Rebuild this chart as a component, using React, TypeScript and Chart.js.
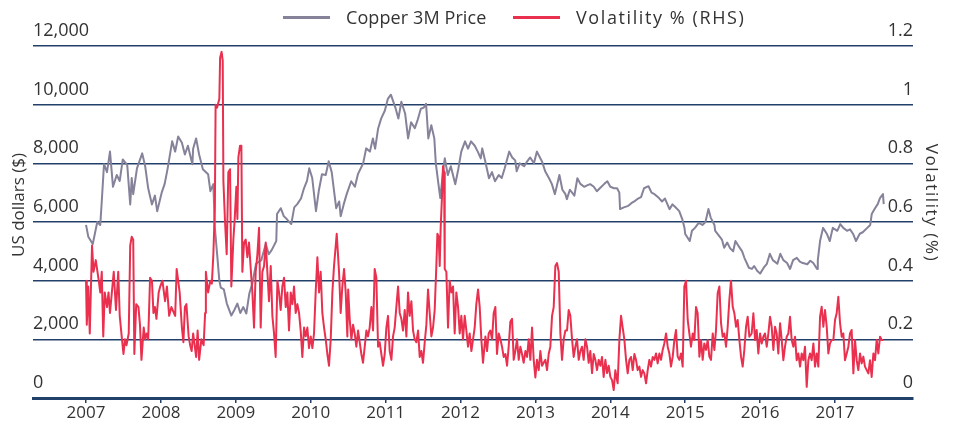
import React, { useEffect, useRef } from 'react';
import { Chart, registerables } from 'chart.js';

Chart.register(...registerables);

const FONT = "'Open Sans', 'Noto Sans', sans-serif";
const COPPER_COLOR = '#858299';
const VOL_COLOR = '#e9304f';
const NAVY = '#22416a';
const TEXT = '#333333';

const seriesNames = ['Copper 3M Price', 'Volatility % (RHS)'];
const axisTitles = ['US dollars ($)', 'Volatility (%)'];
const yearTicks = [2007, 2008, 2009, 2010, 2011, 2012, 2013, 2014, 2015, 2016, 2017];
const priceTicks = [0, 2000, 4000, 6000, 8000, 10000, 12000];
const volTicks = [0, 0.2, 0.4, 0.6, 0.8, 1, 1.2];

const copperSeries: [number, number][] = [
  [2007.00,5900],[2007.03,5500],[2007.09,5250],[2007.15,6000],[2007.19,5900],[2007.21,6700],[2007.24,7970],[2007.28,7700],[2007.32,8400],[2007.36,7200],[2007.41,7600],[2007.45,7400],[2007.49,8130],[2007.55,7950],[2007.59,6600],[2007.61,7500],[2007.63,6950],[2007.68,7830],[2007.75,8340],[2007.79,7900],[2007.83,7150],[2007.88,6600],[2007.92,6900],[2007.95,6370],
  [2008.01,7000],[2008.05,7300],[2008.09,7830],[2008.15,8750],[2008.19,8400],[2008.23,8915],[2008.28,8700],[2008.32,8300],[2008.36,8600],[2008.42,7970],[2008.43,8500],[2008.47,8850],[2008.51,8300],[2008.56,7800],[2008.63,7630],[2008.66,7050],[2008.70,7290],[2008.72,5800],[2008.75,4915],[2008.78,4000],[2008.80,3760],[2008.84,3700],[2008.88,3220],[2008.94,2810],[2008.98,3000],
  [2009.02,3220],[2009.06,2900],[2009.10,3100],[2009.14,2880],[2009.18,3560],[2009.22,3900],[2009.27,4575],[2009.34,4700],[2009.40,5250],[2009.44,4900],[2009.48,5050],[2009.54,5350],[2009.55,6270],[2009.60,6470],[2009.64,6200],[2009.68,6100],[2009.74,5930],[2009.78,6500],[2009.82,6610],[2009.87,6800],[2009.91,7150],[2009.95,7400],[2009.98,7830],
  [2010.02,7500],[2010.07,6370],[2010.11,7100],[2010.15,7630],[2010.20,7600],[2010.24,8070],[2010.28,7700],[2010.34,6470],[2010.38,6700],[2010.40,6200],[2010.44,6600],[2010.48,6950],[2010.54,7390],[2010.59,7200],[2010.63,7630],[2010.70,8000],[2010.74,8510],[2010.79,8400],[2010.83,8850],[2010.86,8500],[2010.90,9190],[2010.94,9525],[2010.99,9800],
  [2011.03,10200],[2011.07,10340],[2011.13,9900],[2011.17,9525],[2011.21,10100],[2011.26,9700],[2011.30,8850],[2011.34,9400],[2011.39,9200],[2011.43,9500],[2011.47,9860],[2011.51,9900],[2011.54,10030],[2011.57,8850],[2011.61,9300],[2011.65,8850],[2011.67,8000],[2011.70,7390],[2011.73,6815],[2011.77,7800],[2011.79,8170],[2011.83,7600],[2011.87,7900],[2011.93,7290],[2011.97,7800],
  [2012.01,8400],[2012.06,8750],[2012.10,8500],[2012.14,8750],[2012.19,8600],[2012.23,8400],[2012.27,8170],[2012.29,8510],[2012.33,8070],[2012.38,7490],[2012.42,7700],[2012.46,7390],[2012.51,7600],[2012.55,7500],[2012.59,7830],[2012.65,8400],[2012.69,8200],[2012.73,8100],[2012.75,7730],[2012.79,8000],[2012.85,7900],[2012.89,8070],[2012.93,8200],[2012.98,8000],
  [2013.02,8400],[2013.06,8200],[2013.09,8050],[2013.13,7730],[2013.18,7500],[2013.22,7290],[2013.26,6950],[2013.32,7600],[2013.36,7100],[2013.40,6950],[2013.42,6780],[2013.46,7100],[2013.52,6900],[2013.56,7490],[2013.60,7300],[2013.65,7200],[2013.69,7250],[2013.73,7290],[2013.78,7200],[2013.82,7050],[2013.86,7150],[2013.92,7300],[2013.96,7390],
  [2014.00,7200],[2014.05,7150],[2014.09,7150],[2014.12,7000],[2014.13,6440],[2014.18,6500],[2014.24,6550],[2014.28,6640],[2014.32,6700],[2014.37,6800],[2014.41,6850],[2014.45,7150],[2014.51,7220],[2014.55,7000],[2014.59,6950],[2014.65,6815],[2014.69,6700],[2014.73,6800],[2014.79,6440],[2014.83,6600],[2014.87,6500],[2014.92,6370],[2014.96,6100],[2014.99,5800],
  [2015.00,5590],[2015.06,5350],[2015.09,5700],[2015.13,5800],[2015.18,5970],[2015.23,5900],[2015.27,6000],[2015.31,6440],[2015.34,6150],[2015.39,5900],[2015.40,5700],[2015.46,5500],[2015.49,5400],[2015.52,5120],[2015.56,5300],[2015.60,5100],[2015.64,5000],[2015.67,5350],[2015.72,5150],[2015.76,5000],[2015.79,4780],[2015.85,4440],[2015.89,4400],[2015.92,4500],[2015.96,4340],
  [2016.00,4240],[2016.05,4450],[2016.09,4575],[2016.13,4915],[2016.17,4700],[2016.23,4575],[2016.27,4915],[2016.31,4700],[2016.36,4600],[2016.40,4400],[2016.44,4700],[2016.49,4780],[2016.53,4650],[2016.57,4600],[2016.63,4560],[2016.67,4680],[2016.71,4600],[2016.76,4400],[2016.77,4700],[2016.80,5350],[2016.84,5800],[2016.89,5600],[2016.93,5350],[2016.97,5800],
  [2017.03,5700],[2017.07,5930],[2017.11,5800],[2017.16,5700],[2017.20,5750],[2017.24,5600],[2017.28,5350],[2017.33,5600],[2017.37,5650],[2017.43,5800],[2017.47,5900],[2017.49,6270],[2017.53,6450],[2017.57,6610],[2017.60,6815],[2017.64,6950],[2017.65,6610],
];

const volatilitySeries: [number, number][] = [
  [2007.00,0.40],[2007.01,0.25],[2007.03,0.38],[2007.05,0.22],[2007.08,0.52],[2007.10,0.43],[2007.13,0.47],[2007.17,0.40],[2007.19,0.36],[2007.21,0.43],[2007.23,0.21],[2007.25,0.36],[2007.28,0.31],[2007.30,0.36],[2007.32,0.29],[2007.37,0.43],[2007.40,0.30],[2007.43,0.43],[2007.45,0.28],[2007.48,0.20],[2007.50,0.15],[2007.52,0.20],[2007.54,0.18],[2007.57,0.22],[2007.59,0.52],[2007.61,0.55],[2007.63,0.54],[2007.645,0.15],[2007.67,0.32],[2007.70,0.31],[2007.72,0.25],[2007.74,0.13],[2007.77,0.24],[2007.79,0.20],[2007.81,0.22],[2007.83,0.20],[2007.855,0.41],[2007.88,0.40],[2007.90,0.29],[2007.92,0.31],[2007.94,0.27],[2007.97,0.36],[2007.99,0.38],
  [2008.02,0.40],[2008.055,0.33],[2008.08,0.38],[2008.11,0.28],[2008.14,0.31],[2008.19,0.28],[2008.21,0.44],[2008.25,0.36],[2008.28,0.24],[2008.30,0.19],[2008.32,0.31],[2008.34,0.32],[2008.37,0.21],[2008.39,0.18],[2008.41,0.16],[2008.43,0.22],[2008.47,0.14],[2008.49,0.23],[2008.51,0.13],[2008.54,0.20],[2008.57,0.18],[2008.59,0.29],[2008.60,0.43],[2008.63,0.36],[2008.66,0.40],[2008.68,0.39],[2008.70,0.49],[2008.72,0.65],
  [2008.73,1.00],[2008.75,0.99],[2008.78,1.02],[2008.79,1.16],[2008.81,1.18],[2008.825,1.15],[2008.834,0.74],[2008.856,0.60],[2008.878,0.49],[2008.90,0.77],[2008.923,0.78],[2008.94,0.38],[2008.967,0.54],[2008.985,0.61],[2009.007,0.72],[2009.021,0.61],[2009.034,0.82],[2009.056,0.86],[2009.074,0.86],[2009.087,0.43],[2009.11,0.53],[2009.132,0.54],[2009.154,0.48],[2009.176,0.53],[2009.199,0.44],[2009.221,0.36],[2009.243,0.24],[2009.265,0.43],[2009.288,0.49],[2009.31,0.58],[2009.332,0.24],[2009.354,0.43],[2009.377,0.45],[2009.399,0.53],[2009.421,0.43],[2009.443,0.33],[2009.466,0.45],[2009.488,0.28],[2009.51,0.22],[2009.532,0.14],[2009.555,0.40],[2009.577,0.36],[2009.599,0.30],[2009.621,0.38],[2009.644,0.41],[2009.666,0.31],[2009.688,0.36],[2009.71,0.23],[2009.733,0.36],[2009.755,0.32],[2009.777,0.38],[2009.799,0.29],[2009.822,0.32],[2009.844,0.29],[2009.866,0.23],[2009.888,0.14],[2009.911,0.24],[2009.933,0.21],[2009.955,0.24],[2009.977,0.17],
  [2010.00,0.21],[2010.022,0.17],[2010.044,0.22],[2010.066,0.36],[2010.089,0.48],[2010.111,0.36],[2010.133,0.43],[2010.155,0.29],[2010.178,0.24],[2010.20,0.20],[2010.222,0.15],[2010.244,0.11],[2010.267,0.20],[2010.289,0.36],[2010.311,0.45],[2010.347,0.56],[2010.378,0.43],[2010.40,0.29],[2010.422,0.38],[2010.445,0.44],[2010.467,0.36],[2010.489,0.21],
  [2010.50,0.37],[2010.52,0.27],[2010.543,0.20],[2010.565,0.25],[2010.587,0.22],[2010.609,0.175],[2010.632,0.23],[2010.654,0.19],[2010.676,0.15],[2010.698,0.12],[2010.721,0.175],[2010.743,0.23],[2010.765,0.21],[2010.787,0.24],[2010.81,0.31],[2010.832,0.23],[2010.854,0.44],[2010.876,0.41],[2010.899,0.175],[2010.921,0.19],[2010.943,0.15],[2010.965,0.11],[2010.988,0.15],
  [2011.01,0.24],[2011.032,0.28],[2011.054,0.16],[2011.077,0.13],[2011.099,0.21],[2011.121,0.24],[2011.143,0.31],[2011.166,0.38],[2011.188,0.29],[2011.21,0.27],[2011.232,0.23],[2011.255,0.30],[2011.277,0.21],[2011.299,0.36],[2011.321,0.28],[2011.344,0.33],[2011.366,0.23],[2011.388,0.20],[2011.41,0.19],[2011.433,0.23],[2011.455,0.14],[2011.477,0.16],[2011.499,0.12],[2011.522,0.19],[2011.544,0.25],[2011.566,0.37],[2011.588,0.29],[2011.611,0.21],[2011.633,0.24],[2011.655,0.30],[2011.677,0.45],[2011.691,0.56],[2011.708,0.55],[2011.722,0.45],[2011.735,0.58],[2011.753,0.69],[2011.766,0.79],[2011.78,0.77],[2011.789,0.44],[2011.811,0.43],[2011.833,0.24],[2011.855,0.40],[2011.878,0.36],[2011.90,0.38],[2011.922,0.22],[2011.944,0.36],[2011.967,0.31],[2011.989,0.22],
  [2012.011,0.28],[2012.033,0.20],[2012.056,0.28],[2012.078,0.23],[2012.10,0.175],[2012.122,0.22],[2012.145,0.16],[2012.167,0.20],[2012.189,0.24],[2012.211,0.32],[2012.234,0.37],[2012.256,0.31],[2012.278,0.20],[2012.30,0.12],
  [2012.332,0.21],[2012.354,0.16],[2012.376,0.22],[2012.398,0.23],[2012.421,0.20],[2012.443,0.29],[2012.465,0.31],[2012.487,0.15],[2012.51,0.22],[2012.532,0.20],[2012.554,0.175],[2012.576,0.14],[2012.599,0.15],[2012.621,0.11],[2012.643,0.175],[2012.665,0.26],[2012.688,0.27],[2012.71,0.13],[2012.732,0.16],[2012.754,0.20],[2012.777,0.13],[2012.799,0.175],[2012.821,0.15],[2012.843,0.12],[2012.866,0.16],[2012.888,0.14],[2012.91,0.20],[2012.932,0.13],[2012.955,0.24],[2012.977,0.13],[2012.999,0.07],
  [2013.021,0.13],[2013.044,0.095],[2013.066,0.16],[2013.088,0.11],[2013.11,0.12],[2013.133,0.13],[2013.155,0.095],[2013.177,0.15],[2013.199,0.175],[2013.222,0.28],[2013.244,0.31],[2013.266,0.45],[2013.288,0.46],[2013.311,0.43],[2013.333,0.22],[2013.355,0.13],[2013.377,0.20],[2013.40,0.23],[2013.422,0.23],[2013.444,0.30],[2013.466,0.28],[2013.489,0.20],[2013.511,0.14],[2013.533,0.175],[2013.555,0.20],[2013.578,0.13],[2013.60,0.16],[2013.622,0.175],[2013.644,0.13],[2013.667,0.20],[2013.689,0.175],[2013.711,0.12],[2013.733,0.16],[2013.756,0.085],[2013.778,0.15],[2013.80,0.13],[2013.822,0.095],[2013.845,0.13],[2013.867,0.11],[2013.889,0.14],[2013.911,0.072],[2013.934,0.13],[2013.956,0.085],[2013.978,0.11],
  [2014.00,0.072],[2014.023,0.061],[2014.045,0.027],[2014.067,0.095],[2014.089,0.061],[2014.098,0.05],[2014.121,0.20],[2014.143,0.28],[2014.165,0.24],[2014.187,0.20],[2014.21,0.13],[2014.232,0.084],[2014.254,0.13],[2014.276,0.14],[2014.299,0.095],[2014.321,0.15],[2014.343,0.13],[2014.365,0.095],[2014.388,0.107],[2014.41,0.072],[2014.432,0.095],[2014.454,0.084],[2014.477,0.05],[2014.499,0.095],[2014.521,0.13],[2014.543,0.107],[2014.566,0.14],[2014.588,0.13],[2014.61,0.152],[2014.632,0.118],[2014.655,0.152],[2014.677,0.13],[2014.699,0.164],[2014.721,0.186],[2014.744,0.22],[2014.766,0.175],[2014.788,0.152],[2014.81,0.107],[2014.833,0.141],[2014.855,0.198],[2014.877,0.232],[2014.899,0.141],[2014.922,0.13],[2014.944,0.152],[2014.966,0.107],[2014.988,0.38],
  [2015.011,0.40],[2015.033,0.266],[2015.055,0.22],[2015.077,0.175],[2015.10,0.22],[2015.122,0.198],[2015.144,0.31],[2015.166,0.289],[2015.189,0.141],[2015.211,0.198],[2015.233,0.13],[2015.255,0.186],[2015.278,0.164],[2015.30,0.198],[2015.322,0.141],[2015.344,0.13],[2015.367,0.22],[2015.389,0.164],[2015.411,0.232],[2015.433,0.357],[2015.456,0.38],[2015.478,0.255],[2015.50,0.209],[2015.522,0.22],[2015.545,0.175],[2015.567,0.243],[2015.589,0.334],[2015.611,0.40],[2015.634,0.311],[2015.656,0.289],[2015.678,0.243],[2015.70,0.266],[2015.723,0.198],[2015.745,0.141],[2015.767,0.107],[2015.789,0.164],[2015.812,0.243],[2015.834,0.277],[2015.856,0.209],[2015.887,0.22],[2015.91,0.289],[2015.932,0.198],[2015.954,0.232],[2015.976,0.152],
  [2015.999,0.22],[2016.021,0.186],[2016.043,0.209],[2016.065,0.22],[2016.088,0.175],[2016.11,0.22],[2016.132,0.277],[2016.154,0.243],[2016.177,0.164],[2016.199,0.243],[2016.221,0.22],[2016.243,0.152],[2016.266,0.255],[2016.288,0.198],[2016.31,0.129],[2016.332,0.175],[2016.355,0.209],[2016.377,0.22],[2016.399,0.277],[2016.421,0.198],[2016.444,0.175],[2016.466,0.209],[2016.488,0.129],[2016.51,0.152],[2016.533,0.107],[2016.555,0.152],[2016.577,0.129],[2016.599,0.175],[2016.622,0.038],[2016.644,0.129],[2016.666,0.152],[2016.688,0.129],[2016.711,0.186],[2016.733,0.107],[2016.755,0.152],[2016.777,0.107],[2016.80,0.277],[2016.822,0.311],[2016.844,0.243],[2016.866,0.30],[2016.889,0.243],[2016.911,0.152],[2016.933,0.186],[2016.955,0.198],[2016.978,0.198],
  [2017.00,0.266],[2017.022,0.289],[2017.044,0.345],[2017.067,0.255],[2017.089,0.209],[2017.111,0.22],[2017.133,0.129],[2017.156,0.152],[2017.178,0.175],[2017.20,0.22],[2017.222,0.232],[2017.245,0.084],[2017.267,0.198],[2017.289,0.129],[2017.311,0.095],[2017.334,0.152],[2017.356,0.118],[2017.378,0.141],[2017.40,0.107],[2017.423,0.095],[2017.445,0.084],[2017.467,0.129],[2017.489,0.072],[2017.512,0.152],[2017.534,0.129],[2017.556,0.198],[2017.578,0.152],[2017.601,0.209],[2017.623,0.198],[2017.645,0.198],
];

// Draws the two rotated axis titles beside the plot.
const axisTitlePlugin = {
  id: 'axisTitles',
  afterDraw(chart: any) {
    const { ctx } = chart;
    const draw = (text: string, x: number, y: number, angle: number, spacing: string) => {
      ctx.save();
      ctx.font = `17px ${FONT}`;
      ctx.fillStyle = TEXT;
      ctx.textAlign = 'center';
      ctx.textBaseline = 'middle';
      try { (ctx as any).letterSpacing = spacing; } catch (e) { /* ignore */ }
      ctx.translate(x, y);
      ctx.rotate(angle);
      ctx.fillText(text, 0, 0);
      ctx.restore();
    };
    draw(axisTitles[0], 19, 205, -Math.PI / 2, '0px');
    draw(axisTitles[1], 931, 203, Math.PI / 2, '1.6px');
  },
};

export default function App() {
  const canvasRef = useRef<HTMLCanvasElement>(null);

  useEffect(() => {
    document.body.style.margin = '0';
    Chart.defaults.font.family = FONT;
    const canvas = canvasRef.current;
    if (!canvas) return;
    const chart = new Chart(canvas, {
      type: 'line',
      data: {
        datasets: [
          {
            label: seriesNames[0],
            data: copperSeries as any,
            yAxisID: 'y',
            borderColor: COPPER_COLOR,
            backgroundColor: COPPER_COLOR,
            borderWidth: 2,
            pointRadius: 0,
            tension: 0,
            borderJoinStyle: 'round',
            order: 2,
          },
          {
            label: seriesNames[1],
            data: volatilitySeries as any,
            yAxisID: 'y1',
            borderColor: VOL_COLOR,
            backgroundColor: VOL_COLOR,
            borderWidth: 2,
            pointRadius: 0,
            tension: 0,
            borderJoinStyle: 'round',
            order: 1,
          },
        ],
      },
      options: {
        responsive: false,
        animation: false,
        layout: { padding: { top: 46, left: 0, right: 0, bottom: 0 } },
        plugins: { legend: { display: false }, tooltip: { enabled: false } },
        scales: {
          x: {
            type: 'linear',
            min: 2006.292,
            max: 2018.041,
            afterBuildTicks: (s: any) => {
              s.ticks = yearTicks.map((v) => ({ value: v }));
            },
            afterFit: (s: any) => {
              s.height = 30;
            },
            ticks: {
              callback: (v: any) => String(v),
              font: { size: 17 },
              color: TEXT,
              padding: 0,
              maxRotation: 0,
              autoSkip: false,
            },
            grid: { drawOnChartArea: false, drawTicks: true, tickLength: 5, color: NAVY, lineWidth: 1.5 },
            border: { display: true, color: NAVY, width: 3 },
          },
          y: {
            type: 'linear',
            position: 'left',
            min: 0,
            max: 12000,
            afterBuildTicks: (s: any) => {
              s.ticks = priceTicks.map((v) => ({ value: v }));
            },
            afterFit: (s: any) => {
              s.width = 33;
            },
            ticks: {
              mirror: true,
              padding: 0,
              labelOffset: -15,
              font: { size: 18 },
              color: TEXT,
              callback: (v: any) => Number(v).toLocaleString('en-US'),
            },
            grid: { color: NAVY, lineWidth: 1.5, drawTicks: false },
            border: { display: false },
          },
          y1: {
            type: 'linear',
            position: 'right',
            min: 0,
            max: 1.2,
            afterBuildTicks: (s: any) => {
              s.ticks = volTicks.map((v) => ({ value: v }));
            },
            afterFit: (s: any) => {
              s.width = 42;
            },
            ticks: {
              mirror: true,
              padding: 0,
              labelOffset: -15,
              font: { size: 18 },
              color: TEXT,
              callback: (v: any) => String(Math.round(Number(v) * 10) / 10),
            },
            grid: { display: false },
            border: { display: false },
          },
        },
      },
      plugins: [axisTitlePlugin],
    });
    return () => chart.destroy();
  }, []);

  const legendItem = (left: number, color: string, text: string, spacing: number) => (
    <div
      style={{
        position: 'absolute',
        left,
        top: 5,
        height: 24,
        display: 'flex',
        alignItems: 'center',
        whiteSpace: 'nowrap',
        fontFamily: FONT,
        fontSize: 18,
        letterSpacing: spacing,
        color: TEXT,
      }}
    >
      <span style={{ display: 'inline-block', width: 47, height: 3, background: color, marginRight: 16 }} />
      <span>{text}</span>
    </div>
  );

  return (
    <div style={{ position: 'relative', width: 955, height: 428, background: '#ffffff' }}>
      <canvas ref={canvasRef} width={955} height={428} style={{ display: 'block' }} />
      {legendItem(283, COPPER_COLOR, seriesNames[0], 0.1)}
      {legendItem(513, VOL_COLOR, seriesNames[1], 1.6)}
    </div>
  );
}
